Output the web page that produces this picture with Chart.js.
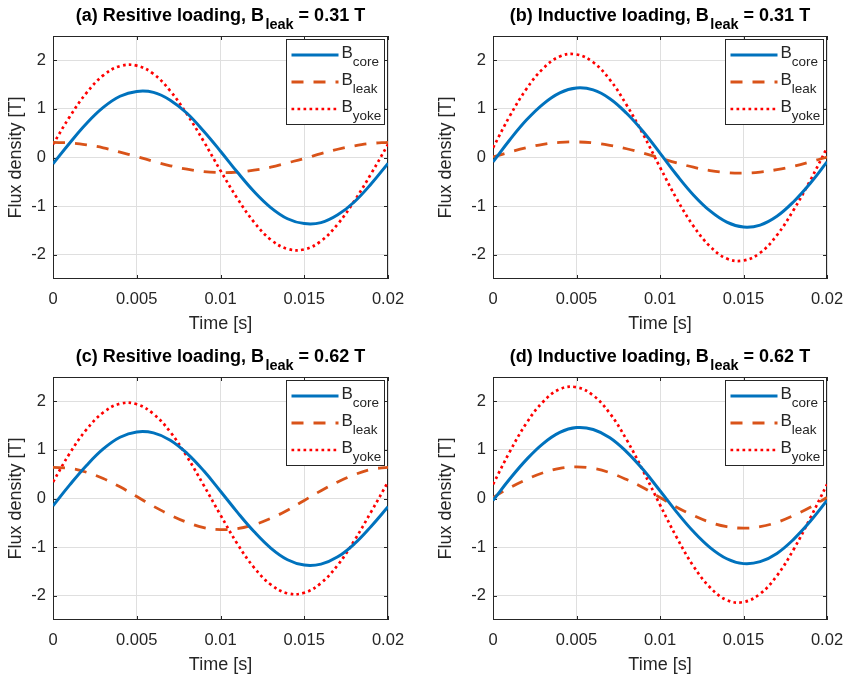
<!DOCTYPE html>
<html>
<head>
<meta charset="utf-8">
<script src="https://cdn.jsdelivr.net/npm/chart.js@4.4.1/dist/chart.umd.min.js"></script>
<style>
  html, body { margin: 0; padding: 0; background: #fff; }
  #wrap { position: relative; width: 846px; height: 678px; overflow: hidden; }
  #wrap canvas { position: absolute; }
</style>
</head>
<body>
<div id="wrap">
  <canvas id="chartA" width="425" height="339" style="left:0px;top:0px"></canvas>
  <canvas id="chartB" width="416" height="339" style="left:430px;top:0px"></canvas>
  <canvas id="chartC" width="425" height="339" style="left:0px;top:341px"></canvas>
  <canvas id="chartD" width="416" height="339" style="left:430px;top:341px"></canvas>
</div>
<script>
// ---------------------------------------------------------
// Data (1 ms steps)
// ---------------------------------------------------------
const timeSec = [0, 0.001, 0.002, 0.003, 0.004, 0.005, 0.006, 0.007, 0.008, 0.009, 0.01,
                 0.011, 0.012, 0.013, 0.014, 0.015, 0.016, 0.017, 0.018, 0.019, 0.02];

const xTickValues = [0, 0.005, 0.01, 0.015, 0.02];
const xTickLabels = ["0", "0.005", "0.01", "0.015", "0.02"];
const yTickValues = [-2, -1, 0, 1, 2];
const yTickLabels = ["-2", "-1", "0", "1", "2"];
const seriesSubs = ["core", "leak", "yoke"];

// (a) resistive, 0.31 T
const coreA = [-0.13, 0.30, 0.70, 1.03, 1.26, 1.36, 1.34, 1.18, 0.91, 0.54, 0.13, -0.30, -0.70, -1.03, -1.26, -1.36, -1.34, -1.18, -0.91, -0.54, -0.12];
const leakA = [0.31, 0.30, 0.26, 0.20, 0.11, 0.02, -0.08, -0.17, -0.24, -0.29, -0.31, -0.30, -0.26, -0.20, -0.11, -0.02, 0.08, 0.17, 0.24, 0.29, 0.31];
const yokeA = [0.27, 0.84, 1.33, 1.69, 1.88, 1.89, 1.72, 1.37, 0.89, 0.33, -0.27, -0.84, -1.33, -1.69, -1.88, -1.89, -1.72, -1.37, -0.89, -0.33, 0.27];

// (b) inductive, 0.31 T
const coreB = [-0.09, 0.36, 0.77, 1.10, 1.33, 1.43, 1.39, 1.21, 0.91, 0.53, 0.09, -0.36, -0.77, -1.10, -1.33, -1.43, -1.39, -1.21, -0.91, -0.53, -0.09];
const leakB = [0.01, 0.11, 0.20, 0.27, 0.31, 0.32, 0.30, 0.25, 0.18, 0.09, -0.01, -0.11, -0.20, -0.27, -0.31, -0.32, -0.30, -0.25, -0.18, -0.09, 0.01];
const yokeB = [0.20, 0.85, 1.41, 1.83, 2.08, 2.12, 1.96, 1.60, 1.08, 0.47, -0.20, -0.85, -1.41, -1.83, -2.08, -2.12, -1.96, -1.60, -1.08, -0.47, 0.20];

// (c) resistive, 0.62 T
const coreC = [-0.15, 0.28, 0.68, 1.02, 1.26, 1.37, 1.35, 1.20, 0.93, 0.57, 0.15, -0.28, -0.68, -1.02, -1.26, -1.37, -1.35, -1.20, -0.93, -0.57, -0.17];
const leakC = [0.64, 0.62, 0.54, 0.41, 0.24, 0.04, -0.16, -0.34, -0.49, -0.60, -0.64, -0.62, -0.54, -0.41, -0.24, -0.04, 0.16, 0.34, 0.49, 0.60, 0.64];
const yokeC = [0.34, 0.93, 1.42, 1.77, 1.95, 1.94, 1.74, 1.37, 0.86, 0.27, -0.34, -0.93, -1.42, -1.77, -1.95, -1.94, -1.74, -1.37, -0.86, -0.27, 0.34];

// (d) inductive, 0.62 T
const coreD = [-0.04, 0.40, 0.80, 1.13, 1.36, 1.46, 1.42, 1.25, 0.96, 0.59, 0.16, -0.28, -0.68, -1.01, -1.24, -1.34, -1.30, -1.13, -0.84, -0.47, -0.04];
const leakD = [0.02, 0.22, 0.39, 0.53, 0.62, 0.65, 0.62, 0.53, 0.39, 0.22, 0.02, -0.18, -0.35, -0.49, -0.58, -0.61, -0.58, -0.49, -0.35, -0.18, 0.02];
const yokeD = [0.29, 0.96, 1.55, 1.99, 2.25, 2.29, 2.12, 1.75, 1.21, 0.56, -0.13, -0.80, -1.39, -1.83, -2.09, -2.13, -1.96, -1.59, -1.05, -0.40, 0.29];

// ---------------------------------------------------------
// Styling
// ---------------------------------------------------------
const FONT = "'Liberation Sans', Arial, Helvetica, sans-serif";
const TEXT = "#262626";
const GRID = "#dfdfdf";
const lineStyles = [
  { color: "#0072BD", dash: [], width: 3 },
  { color: "#D95319", dash: [12, 10], width: 2.8 },
  { color: "#FF0000", dash: [2.7, 3.3], width: 2.7 }
];

// draw text runs with sub-scripts, left or centered
function drawRich(ctx, parts, x, y, center) {
  let total = 0;
  parts.forEach(p => {
    ctx.font = p.font;
    p.w = ctx.measureText(p.text).width;
    total += p.w + (p.gap || 0);
  });
  let cx = center ? x - total / 2 : x;
  parts.forEach(p => {
    ctx.font = p.font;
    ctx.fillText(p.text, cx, y + (p.dy || 0));
    cx += p.w + (p.gap || 0);
  });
}

// ---------------------------------------------------------
// Plugin: MATLAB-ish box, inward ticks, legend, title
// ---------------------------------------------------------
const panelDecor = {
  id: "panelDecor",
  beforeDatasetsDraw(chart) {
    const { ctx, chartArea: a, scales } = chart;
    ctx.save();
    ctx.strokeStyle = TEXT;
    ctx.lineWidth = 1;
    ctx.strokeRect(a.left + 0.5, a.top + 0.5, a.right - a.left - 1, a.bottom - a.top - 1);
    ctx.beginPath();
    xTickValues.forEach(v => {
      const px = Math.round(scales.x.getPixelForValue(v)) + 0.5;
      ctx.moveTo(px, a.bottom); ctx.lineTo(px, a.bottom - 4);
      ctx.moveTo(px, a.top); ctx.lineTo(px, a.top + 4);
    });
    yTickValues.forEach(v => {
      const py = Math.round(scales.y.getPixelForValue(v)) + 0.5;
      ctx.moveTo(a.left, py); ctx.lineTo(a.left + 4, py);
      ctx.moveTo(a.right, py); ctx.lineTo(a.right - 4, py);
    });
    ctx.stroke();
    ctx.restore();
  },
  afterDatasetsDraw(chart) {
    const { ctx, chartArea: a } = chart;
    const bw = 98, bh = 85;
    const bx = Math.round(a.right - 4 - bw) + 0.5;
    const by = Math.round(a.top + 2.5) + 0.5;
    ctx.save();
    ctx.fillStyle = "#fff";
    ctx.fillRect(bx, by, bw, bh);
    ctx.strokeStyle = TEXT;
    ctx.lineWidth = 1;
    ctx.strokeRect(bx, by, bw, bh);
    const rows = [15.5, 42.5, 69.5];
    seriesSubs.forEach((sub, i) => {
      const st = lineStyles[i];
      const ry = by + rows[i];
      ctx.beginPath();
      ctx.setLineDash(st.dash);
      ctx.strokeStyle = st.color;
      ctx.lineWidth = st.width;
      ctx.moveTo(bx + 5, ry);
      ctx.lineTo(bx + 52, ry);
      ctx.stroke();
      ctx.setLineDash([]);
      ctx.fillStyle = TEXT;
      ctx.textBaseline = "alphabetic";
      drawRich(ctx, [
        { text: "B", font: "17px " + FONT },
        { text: sub, font: "13.5px " + FONT, dy: 7.5 }
      ], bx + 55, ry + 3, false);
    });
    ctx.restore();
  },
  afterDraw(chart, args, opts) {
    const { ctx, chartArea: a } = chart;
    ctx.save();
    ctx.fillStyle = "#000";
    ctx.textBaseline = "alphabetic";
    drawRich(ctx, [
      { text: opts.pre, font: "bold 18px " + FONT, gap: 1.5 },
      { text: "leak", font: "bold 14.5px " + FONT, dy: 8 },
      { text: opts.post, font: "bold 18px " + FONT }
    ], (a.left + a.right) / 2, 21, true);
    ctx.restore();
  }
};

function makePanel(canvasId, pre, post, core, leak, yoke, leftW, rightPad) {
  const series = [core, leak, yoke];
  const datasets = series.map((vals, i) => ({
    label: "B" + seriesSubs[i],
    data: timeSec.map((t, k) => ({ x: t, y: vals[k] })),
    borderColor: lineStyles[i].color,
    borderDash: lineStyles[i].dash,
    borderWidth: lineStyles[i].width,
    pointRadius: 0,
    tension: 0.4,
    fill: false
  }));

  return new Chart(document.getElementById(canvasId), {
    type: "line",
    data: { datasets },
    options: {
      responsive: false,
      animation: false,
      devicePixelRatio: 1,
      layout: { padding: { left: 0, top: 36, right: rightPad, bottom: 0 } },
      plugins: {
        legend: { display: false },
        tooltip: { enabled: false },
        panelDecor: { pre, post }
      },
      scales: {
        x: {
          type: "linear",
          min: 0,
          max: 0.02,
          afterBuildTicks: s => { s.ticks = xTickValues.map(v => ({ value: v })); },
          afterFit: s => { s.height = 60; s.paddingLeft = 0; s.paddingRight = 0; },
          grid: { color: GRID, drawTicks: false },
          border: { display: false },
          ticks: {
            color: TEXT,
            padding: 11,
            maxRotation: 0,
            font: { family: FONT, size: 16.5 },
            callback: (v, i) => xTickLabels[i]
          },
          title: {
            display: true,
            text: "Time [s]",
            color: TEXT,
            font: { family: FONT, size: 18 },
            padding: { top: 0, bottom: 4 }
          }
        },
        y: {
          min: -2.5,
          max: 2.5,
          afterBuildTicks: s => { s.ticks = yTickValues.map(v => ({ value: v })); },
          afterFit: s => { s.width = leftW; s.paddingTop = 0; s.paddingBottom = 0; },
          grid: { color: GRID, drawTicks: false },
          border: { display: false },
          ticks: {
            color: TEXT,
            padding: 7,
            font: { family: FONT, size: 16.5 },
            callback: (v, i) => yTickLabels[i]
          },
          title: {
            display: true,
            text: "Flux density [T]",
            color: TEXT,
            font: { family: FONT, size: 18 },
            padding: { top: 5, bottom: 0 }
          }
        }
      }
    },
    plugins: [panelDecor]
  });
}

makePanel("chartA", "(a) Resitive loading, B", " = 0.31 T", coreA, leakA, yokeA, 53, 37);
makePanel("chartB", "(b) Inductive loading, B", " = 0.31 T", coreB, leakB, yokeB, 63, 19);
makePanel("chartC", "(c) Resitive loading, B", " = 0.62 T", coreC, leakC, yokeC, 53, 37);
makePanel("chartD", "(d) Inductive loading, B", " = 0.62 T", coreD, leakD, yokeD, 63, 19);
</script>
</body>
</html>
